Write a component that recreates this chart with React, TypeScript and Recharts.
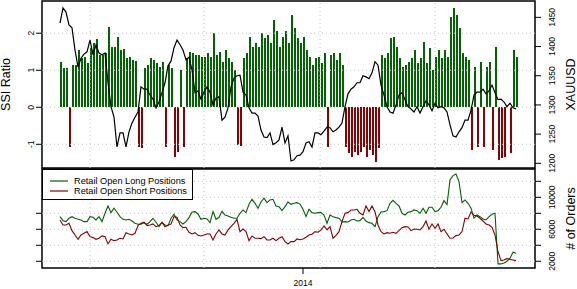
import React from 'react';
import {
  ComposedChart,
  LineChart,
  Bar,
  Line,
  Cell,
  XAxis,
  YAxis,
  ReferenceLine,
  ReferenceArea,
  Legend,
} from 'recharts';

const FONT = '"Liberation Sans", Arial, Helvetica, sans-serif';
const GREEN = '#006400';
const RED = '#8b0000';
const GRID = '#c4c4c4';

// SSI ratio per session: positive = more longs, negative = more shorts, null = no reading
const ssiRatio: (number | null)[] = [
  1.22, 1.05, 1.05, -1.08, 1.14, 1.14, 1.55, 1.32, 1.37, 1.19,
  1.6, 1.73, 1.84, 1.41, 1.41, 1.46, 2.18, 1.64, 1.64, 1.89,
  1.55, 1.57, 1.32, 1.35, 1.28, 1.25, -1.06, -1.11, 1.05, 1.14,
  1.32, 1.28, 1.19, 1.1, 1.23, -1.06, 1.14, 1.05, -1.33, -1.2,
  1.01, -1.06, 1.32, 1.5, 1.46, 1.41, 1.41, 1.37, 1.37, 1.46,
  1.37, 2.0, 1.41, 1.5, 1.23, 1.55, 1.32, 1.23, 1.01, -1.02,
  -1.05, 1.32, 1.46, 1.91, 1.64, 1.73, 1.64, 2.0, 1.86, 1.95,
  1.73, 2.36, 2.05, 1.64, 1.91, 2.05, 1.73, 2.5, 2.14, 1.86,
  1.73, 1.91, 1.55, 1.37, 1.14, 1.32, 1.37, 1.2, 1.46, -1.06,
  1.41, 1.46, 1.28, 1.46, 1.14, -1.06, -1.24, -1.33, -1.2, -1.29,
  -1.2, -1.06, -1.33, -1.15, -1.29, -1.47, -1.11, 1.41, 1.32, 1.46,
  1.86, 1.91, 1.64, 1.32, 1.1, 1.14, 1.23, 1.32, 1.55, 1.19,
  1.32, 1.77, 1.19, 1.59, 1.01, 1.37, 1.55, 1.32, 1.55, 1.37,
  2.45, 2.68, 2.5, 2.14, 1.46, 1.37, 1.28, -1.15, 1.1, -1.06,
  1.23, -1.06, 1.1, 1.23, -1.15, 1.64, -1.42, -1.38, -1.33, null,
  -1.24, 1.55, 1.37,
];

// XAUUSD close
const xauusd = [
  1440, 1466, 1459, 1437, 1432, 1394, 1365, 1380, 1387, 1391,
  1411, 1386, 1403, 1389, 1386, 1389, 1338, 1297, 1279, 1228,
  1252, 1252, 1228, 1254, 1269, 1279, 1288, 1331, 1327, 1327,
  1317, 1310, 1295, 1305, 1321, 1338, 1367, 1375, 1398, 1411,
  1403, 1394, 1377, 1382, 1360, 1321, 1324, 1310, 1322, 1331,
  1322, 1300, 1312, 1314, 1274, 1279, 1295, 1331, 1346, 1350,
  1351, 1322, 1317, 1295, 1286, 1286, 1281, 1257, 1245, 1244,
  1252, 1232, 1235, 1240, 1262, 1235, 1247, 1204, 1206, 1213,
  1214, 1220, 1235, 1237, 1228, 1252, 1252, 1249, 1255, 1262,
  1261, 1254, 1257, 1262, 1269, 1297, 1319, 1327, 1331, 1338,
  1338, 1350, 1348, 1345, 1355, 1374, 1368, 1334, 1317, 1297,
  1288, 1286, 1300, 1317, 1321, 1309, 1297, 1293, 1288, 1297,
  1286, 1297, 1307, 1300, 1290, 1303, 1295, 1297, 1295, 1288,
  1266, 1247, 1245, 1254, 1261, 1274, 1274, 1291, 1317, 1322,
  1322, 1327, 1319, 1324, 1334, 1321, 1309, 1310, 1305, 1297,
  1303, 1295, 1293,
];

// Retail open long positions (# of orders)
const longOrders = [
  7580, 7080, 6960, 7380, 7580, 7380, 7250, 7170, 6960, 6960,
  7580, 7500, 7170, 7580, 6960, 8000, 8920, 8080, 8630, 8130,
  7580, 7250, 7170, 7250, 7040, 6750, 6630, 6630, 6830, 6630,
  6960, 7380, 6880, 6330, 6830, 6540, 6420, 7380, 7880, 7170,
  6960, 6670, 6960, 7460, 8170, 8210, 7920, 7250, 7380, 7290,
  6830, 8210, 7250, 7500, 8250, 7790, 7670, 7500, 7380, 7380,
  8000, 8420, 8080, 9130, 9750, 9250, 8630, 9420, 9880, 9330,
  9670, 9750, 8920, 8830, 8330, 8830, 9420, 9130, 9250, 9330,
  9150, 8500, 7580, 8500, 8080, 8000, 8080, 8080, 7790, 6750,
  7790, 7580, 7460, 7380, 6920, 6960, 6920, 7170, 7250, 7040,
  7080, 7500, 7040, 6830, 6750, 6330, 7580, 8170, 8210, 8330,
  9250, 9630, 9250, 8920, 8000, 7790, 8130, 8210, 8420, 8330,
  8000, 8630, 8000, 8750, 8750, 8210, 8330, 8750, 9580, 9080,
  12170, 12710, 12920, 11960, 9330, 9670, 9250, 8630, 7380, 7790,
  7580, 7290, 7170, 7580, 7880, 8000, 1670, 1670, 1790, 2000,
  2380, 3130, 3000,
];

// Retail open short positions (# of orders)
const shortOrders = [
  7170, 6540, 6540, 6750, 5830, 5290, 4750, 5290, 5500, 5710,
  5080, 4960, 4750, 4880, 5170, 5080, 4170, 4750, 4580, 4670,
  4880, 4790, 5580, 5420, 5290, 5500, 6460, 6750, 6880, 6460,
  6540, 6670, 6330, 6460, 6880, 6330, 6540, 6670, 7580, 7500,
  6540, 6210, 6250, 5630, 5420, 5580, 5250, 5170, 5290, 5420,
  5420, 4670, 5420, 5920, 5420, 5290, 5920, 6330, 6750, 7250,
  5710, 6040, 5710, 4580, 5170, 4880, 4880, 4830, 5080, 4670,
  4670, 4880, 4580, 4880, 5080, 4460, 4170, 4460, 4460, 4790,
  4700, 4790, 5000, 5290, 5380, 5710, 5630, 5920, 6420, 5920,
  6330, 4880, 5250, 5710, 6960, 8000, 8080, 8420, 8420, 8500,
  8000, 7790, 8920, 8210, 8920, 8210, 6540, 5710, 5420, 5580,
  5500, 5630, 5500, 5830, 6210, 6330, 6290, 5830, 6040, 6000,
  5920, 6330, 7040, 6000, 6670, 6130, 6670, 5710, 6000, 5420,
  4880, 4920, 5210, 5290, 5710, 7380, 7290, 8170, 7750, 7670,
  7380, 7040, 6670, 6540, 6250, 5290, 3210, 2080, 2170, 2330,
  2250, 2170, 2080,
];

const gridDays = [10, 48, 86.7, 125];
const yearTicks = [81];
const yearLabels: Record<number, string> = { 81: '2014' };
const ssiTicks = [-1, 0, 1, 2];
const priceTicks = [1200, 1250, 1300, 1350, 1400, 1450];
const orderTicks = [2000, 4000, 6000, 8000, 10000, 12000];
const orderLeftTicks = [2000, 4000, 6000, 8000];
const orderLabelled = [2000, 6000, 10000];

const X_DOMAIN: [number, number] = [-6, 158.33];
const SSI_DOMAIN: [number, number] = [-1.64, 2.87];
const PRICE_DOMAIN: [number, number] = [1192, 1478];
const ORDER_DOMAIN: [number, number] = [1160, 13540];

const topRows = ssiRatio.map((ssi, day) => ({ day, ssi, price: xauusd[day] }));
const bottomRows = longOrders.map((long, day) => ({ day, long, short: shortOrders[day] }));

// rotated tick label; uses the axis formatter when one is set
const RotTick = (props: any) => {
  const { x, y, payload, index, tickFormatter } = props;
  const text = tickFormatter ? tickFormatter(payload.value, index) : payload.value;
  if (text === '' || text === null || text === undefined) return <g />;
  return (
    <text
      x={x}
      y={y}
      transform={`rotate(-90 ${x} ${y})`}
      textAnchor="middle"
      fontSize={8.5}
      fontFamily={FONT}
      fill="#000"
    >
      {String(text)}
    </text>
  );
};

const BlankTick = () => <g />;

const orderLabel = (v: any) => (orderLabelled.indexOf(Math.round(Number(v))) >= 0 ? String(Math.round(Number(v))) : '');

const axisTitle = (text: string, side: 'left' | 'right') => (props: any) => {
  const vb = props.viewBox || { x: 0, y: 0, width: 42, height: 168 };
  const x = side === 'left' ? vb.x + 10 : vb.x + vb.width - 2;
  const y = vb.y + vb.height / 2;
  return (
    <text
      x={x}
      y={y}
      transform={`rotate(-90 ${x} ${y})`}
      textAnchor="middle"
      fontSize={12.5}
      fontFamily={FONT}
      fill="#000"
    >
      {text}
    </text>
  );
};

const OrdersLegend = ({ payload }: any) => (
  <div
    style={{
      width: 151,
      height: 31,
      boxSizing: 'border-box',
      border: '1px solid #000',
      background: '#fff',
      paddingTop: 6,
      paddingLeft: 7,
      fontFamily: FONT,
      fontSize: 9.2,
      color: '#000',
    }}
  >
    {(payload || []).map((entry: any) => (
      <div key={entry.value} style={{ display: 'flex', alignItems: 'center', height: 10, lineHeight: '10px' }}>
        <svg width={18} height={10} style={{ marginRight: 6, flex: 'none' }}>
          <line x1={0} x2={18} y1={5} y2={5} stroke={entry.color} strokeWidth={1.2} />
        </svg>
        <span style={{ whiteSpace: 'nowrap' }}>{entry.value}</span>
      </div>
    ))}
  </div>
);

export default function App() {
  return (
    <div style={{ position: 'absolute', left: 0, top: 0, width: 577, height: 289, background: '#fff' }}>
      <div style={{ position: 'absolute', left: 0, top: 0 }}>
        <ComposedChart width={577} height={178} data={topRows} margin={{ top: 1, right: 0, bottom: 10, left: 0 }}>
          <XAxis dataKey="day" type="number" domain={X_DOMAIN} allowDataOverflow hide />
          <YAxis
            yAxisId="ssi"
            orientation="left"
            width={42}
            domain={SSI_DOMAIN}
            allowDataOverflow
            ticks={ssiTicks}
            interval={0}
            axisLine={false}
            tickSize={6}
            tickMargin={2}
            tickLine={{ stroke: '#000' }}
            tick={<RotTick />}
            label={axisTitle('SSI Ratio', 'left')}
          />
          <YAxis
            yAxisId="px"
            orientation="right"
            width={42}
            domain={PRICE_DOMAIN}
            allowDataOverflow
            ticks={priceTicks}
            interval={0}
            axisLine={false}
            tickSize={6}
            tickMargin={14}
            tickLine={{ stroke: '#000' }}
            tick={<RotTick />}
            label={axisTitle('XAUUSD', 'right')}
          />
          <Bar yAxisId="ssi" dataKey="ssi" barSize={2} shapeRendering="crispEdges" isAnimationActive={false}>
            {topRows.map((r) => (
              <Cell key={`c${r.day}`} fill={r.ssi !== null && r.ssi < 0 ? RED : GREEN} />
            ))}
          </Bar>
          {ssiTicks.map((t) => (
            <ReferenceLine key={`h${t}`} yAxisId="ssi" y={t} stroke={GRID} strokeDasharray="1 3" />
          ))}
          {gridDays.map((d) => (
            <ReferenceLine key={`v${d}`} yAxisId="ssi" x={d} stroke={GRID} strokeDasharray="1 3" />
          ))}
          <Line
            yAxisId="px"
            dataKey="price"
            type="linear"
            stroke="#000"
            strokeWidth={1.2}
            dot={false}
            isAnimationActive={false}
          />
          <ReferenceArea
            yAxisId="ssi"
            x1={X_DOMAIN[0]}
            x2={X_DOMAIN[1]}
            y1={SSI_DOMAIN[0]}
            y2={SSI_DOMAIN[1]}
            fill="none"
            stroke="#000"
            strokeWidth={1.5}
            ifOverflow="visible"
          />
        </ComposedChart>
      </div>
      <div style={{ position: 'absolute', left: 0, top: 168 }}>
        <LineChart width={577} height={121} data={bottomRows} margin={{ top: 1, right: 0, bottom: 0, left: 0 }}>
          <XAxis
            dataKey="day"
            type="number"
            domain={X_DOMAIN}
            allowDataOverflow
            ticks={yearTicks}
            height={21}
            axisLine={false}
            tickSize={6}
            tickMargin={6}
            tickLine={{ stroke: '#000' }}
            tickFormatter={(v: number) => yearLabels[v] ?? ''}
            tick={{ fontSize: 8.5, fill: '#000', fontFamily: FONT }}
          />
          <YAxis
            yAxisId="ordL"
            orientation="left"
            width={42}
            domain={ORDER_DOMAIN}
            allowDataOverflow
            ticks={orderLeftTicks}
            interval={0}
            axisLine={false}
            tickSize={6}
            tickLine={{ stroke: '#000' }}
            tick={<BlankTick />}
          />
          <YAxis
            yAxisId="ord"
            orientation="right"
            width={42}
            domain={ORDER_DOMAIN}
            allowDataOverflow
            ticks={orderTicks}
            interval={0}
            axisLine={false}
            tickSize={6}
            tickMargin={14}
            tickLine={{ stroke: '#000' }}
            tickFormatter={orderLabel}
            tick={<RotTick />}
            label={axisTitle('# of Orders', 'right')}
          />
          {orderTicks.map((t) => (
            <ReferenceLine key={`oh${t}`} yAxisId="ord" y={t} stroke={GRID} strokeDasharray="1 3" />
          ))}
          {gridDays.map((d) => (
            <ReferenceLine key={`ov${d}`} yAxisId="ord" x={d} stroke={GRID} strokeDasharray="1 3" />
          ))}
          <Line
            yAxisId="ord"
            name="Retail Open Long Positions"
            dataKey="long"
            type="linear"
            stroke={GREEN}
            strokeWidth={1.1}
            dot={false}
            isAnimationActive={false}
          />
          <Line
            yAxisId="ord"
            name="Retail Open Short Positions"
            dataKey="short"
            type="linear"
            stroke={RED}
            strokeWidth={1.1}
            dot={false}
            isAnimationActive={false}
          />
          <ReferenceArea
            yAxisId="ord"
            x1={X_DOMAIN[0]}
            x2={X_DOMAIN[1]}
            y1={ORDER_DOMAIN[0]}
            y2={ORDER_DOMAIN[1]}
            fill="none"
            stroke="#000"
            strokeWidth={1.5}
            ifOverflow="visible"
          />
          <Legend
            layout="vertical"
            align="center"
            verticalAlign="middle"
            content={<OrdersLegend />}
            wrapperStyle={{ left: 42, top: 1, width: 151, height: 31 }}
          />
        </LineChart>
      </div>
    </div>
  );
}
